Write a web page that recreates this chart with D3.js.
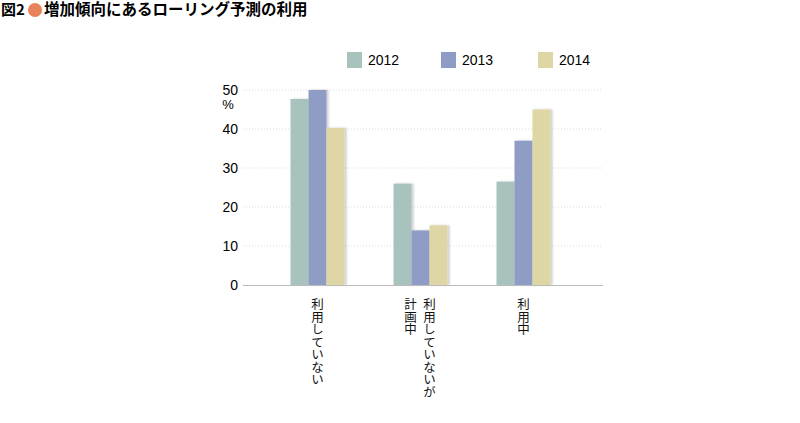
<!DOCTYPE html>
<html><head><meta charset="utf-8">
<script src="https://cdn.jsdelivr.net/npm/d3@7"></script>
<style>body{margin:0;background:#fff}text{font-family:"Noto Sans CJK JP",sans-serif}text.num{font-family:"Liberation Sans",sans-serif}</style>
</head><body>
<svg id="main" width="800" height="423"></svg>
<script>
var categories = ["利用していない", "利用していないが計画中", "利用中"];
var years = ["2012", "2013", "2014"];
var values2012 = [47.7, 26, 26.5];
var values2013 = [50, 14, 37];
var values2014 = [40.3, 15.3, 45];
var yTicks = [0, 10, 20, 30, 40, 50];
var colors = ["#a8c2be", "#8f9dc6", "#ded6a4"];

var svg = d3.select("svg#main");
var series = [values2012, values2013, values2014];

// title
svg.append("text").attr("x", 1).attr("y", 15).attr("font-size", 15).attr("font-weight", "bold").text("図2");
svg.append("circle").attr("cx", 35).attr("cy", 10).attr("r", 7).attr("fill", "#e9835b");
svg.append("text").attr("x", 44).attr("y", 15).attr("font-size", 15.5).attr("font-weight", "bold")
    .text("増加傾向にあるローリング予測の利用");

var y = d3.scaleLinear().domain([0, 50]).range([285, 90]);
var x = d3.scaleBand().domain(categories).range([266, 575]);
var xi = d3.scaleBand().domain(years).range([0, 54]);

// grid
svg.append("g").selectAll("line").data(yTicks.slice(1)).join("line")
    .attr("x1", 243).attr("x2", 603).attr("y1", d => y(d)).attr("y2", d => y(d))
    .attr("stroke", "#ddd").attr("stroke-dasharray", "1,2");

svg.append("g").selectAll("text").data(yTicks).join("text").attr("class", "num")
    .attr("x", 238).attr("y", d => y(d) + 5).attr("text-anchor", "end")
    .attr("font-size", 14).text(d => d);
svg.append("text").attr("class", "num").attr("x", 228).attr("y", 109).attr("font-size", 13)
    .attr("text-anchor", "middle").text("%");

var defs = svg.append("defs");
var f = defs.append("filter").attr("id", "sh").attr("x", "-20%").attr("width", "150%");
f.append("feDropShadow").attr("dx", 2).attr("dy", 0).attr("stdDeviation", 1.2).attr("flood-opacity", 0.2);

series.forEach(function(vals, s) {
    svg.append("g").selectAll("rect").data(vals).join("rect")
        .attr("x", (d, i) => x(categories[i]) + x.bandwidth() / 2 - 27 + xi(years[s]))
        .attr("width", xi.bandwidth())
        .attr("y", d => y(d)).attr("height", d => y(0) - y(d))
        .attr("fill", colors[s]).attr("filter", "url(#sh)");
});

svg.append("line").attr("x1", 243).attr("x2", 603).attr("y1", 285.5).attr("y2", 285.5)
    .attr("stroke", "#bbb").attr("stroke-width", 1.2);

// vertical category labels
function vlabel(txt, cx) {
    svg.append("text").attr("x", cx).attr("y", 298).attr("font-size", 12.5)
        .attr("writing-mode", "vertical-rl").attr("fill", "#111").text(txt);
}
vlabel("利用していない", x(categories[0]) + x.bandwidth() / 2);
vlabel("利用していないが", x(categories[1]) + x.bandwidth() / 2 + 9);
vlabel("計画中", x(categories[1]) + x.bandwidth() / 2 - 10);
vlabel("利用中", x(categories[2]) + x.bandwidth() / 2);

// legend
var lx = [347, 441, 538];
years.forEach(function(yr, i) {
    svg.append("rect").attr("x", lx[i]).attr("y", 52).attr("width", 15).attr("height", 16).attr("fill", colors[i]);
    svg.append("text").attr("class", "num").attr("x", lx[i] + 21).attr("y", 65).attr("font-size", 14).text(yr);
});
</script>
</body></html>
